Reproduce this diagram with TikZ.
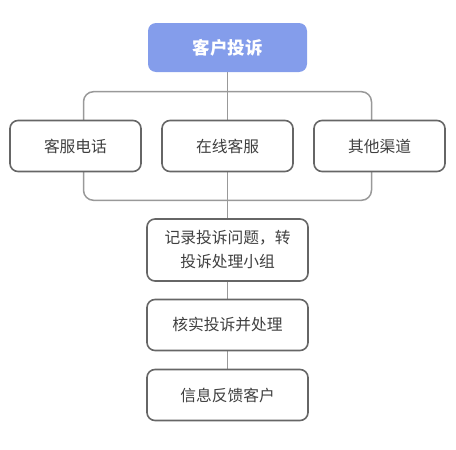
\documentclass[tikz,border=0pt]{standalone}
\usepackage{fontspec}
\newfontfamily\cjk{Noto Sans CJK SC}
\usetikzlibrary{positioning,backgrounds}
\definecolor{topblue}{HTML}{849DEB}
\definecolor{boxline}{HTML}{666666}
\definecolor{connline}{HTML}{999999}
\definecolor{boxtext}{HTML}{404040}
\tikzstyle{head} = [rectangle, rounded corners=8pt, minimum width=159pt, minimum height=49pt, text centered, fill=topblue, text=white, font=\cjk\bfseries\fontsize{17.5}{20}\selectfont]
\tikzstyle{channel} = [rectangle, rounded corners=8pt, minimum width=131pt, minimum height=51pt, text centered, draw=boxline, line width=1.6pt, fill=white, text=boxtext, font=\cjk\fontsize{15.75}{18}\selectfont]
\tikzstyle{process} = [rectangle, rounded corners=8pt, minimum width=161pt, minimum height=51pt, align=center, draw=boxline, line width=1.6pt, fill=white, text=boxtext, font=\cjk\fontsize{15.75}{24}\selectfont]
\tikzstyle{conn} = [connline, line width=1.5pt]

\begin{document}
\begin{tikzpicture}[x=1pt,y=-1pt,node distance=98.5pt]
            \useasboundingbox (0,0) rectangle (456,450);
            \node (complaint) [head] at (227.5,47.5) {客户投诉};
            \node (online) [channel, below of=complaint] {在线客服};
            \node (phone) [channel, left of=online, node distance=152pt] {客服电话};
            \node (other) [channel, right of=online, node distance=152pt] {其他渠道};
            \node (record) [process, below of=online, node distance=104pt, minimum height=62pt] {记录投诉问题，转\\投诉处理小组};
            \node (check) [process, below of=record, node distance=75pt] {核实投诉并处理};
            \node (feedback) [process, below of=check, node distance=70pt] {信息反馈客户};

            \begin{scope}[on background layer]
            \draw [conn, rounded corners=10pt] ([xshift=8pt,yshift=28pt]phone.north) rectangle ([xshift=-8pt,yshift=-28pt]other.south);
            \draw [conn] (complaint) -- (online);
            \draw [conn] (online) -- (record);
            \draw [conn] (record) -- (check);
            \draw [conn] (check) -- (feedback);
            \end{scope}
        \end{tikzpicture}
\end{document}
